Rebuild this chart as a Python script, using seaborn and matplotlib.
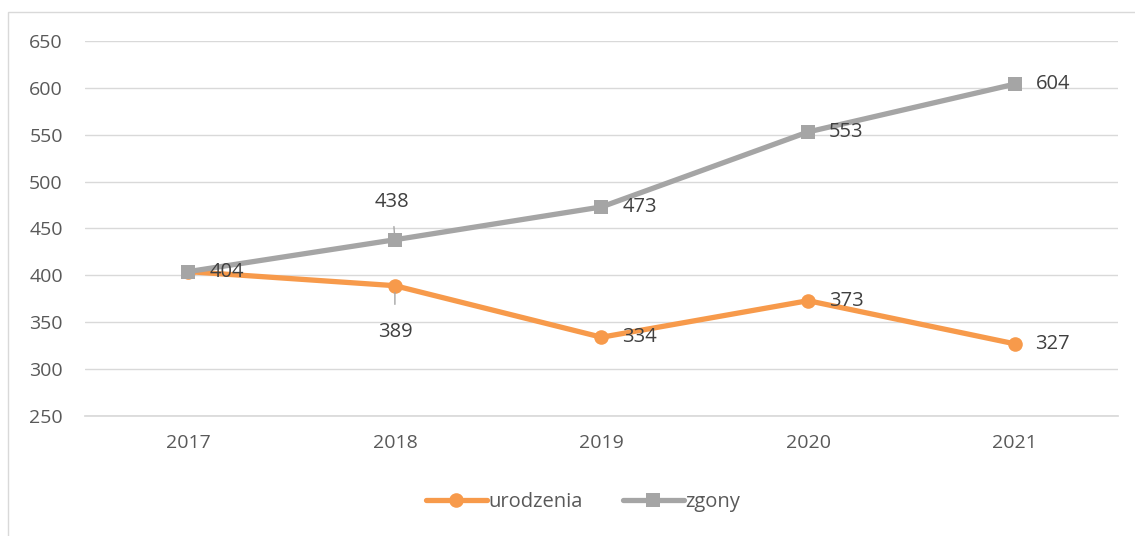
import pandas as pd
import matplotlib.pyplot as plt
import seaborn as sns
from matplotlib.patches import Rectangle

# =========================
# DATA
# =========================
years = ["2017", "2018", "2019", "2020", "2021"]
urodzenia = [404, 389, 334, 373, 327]
zgony = [404, 438, 473, 553, 604]

df = pd.DataFrame({
    "pos": list(range(len(years))) * 2,
    "value": urodzenia + zgony,
    "series": ["urodzenia"] * len(years) + ["zgony"] * len(years),
})

# =========================
# STYLE
# =========================
sns.set_theme(style="white")
plt.rcParams['font.family'] = ['Open Sans', 'DejaVu Sans']
text_color = "#595959"
orange = "#F79A4B"
gray = "#A5A5A5"

fig = plt.figure(figsize=(11.35, 5.36), dpi=100)
ax = fig.add_axes([0.0749, 0.2239, 0.9101, 0.6996])

# outer chart border
fig.patches.append(Rectangle((8 / 1135, -0.05), 1.1, 1 - 12 / 536 + 0.05,
                             transform=fig.transFigure, fill=False,
                             edgecolor="#D9D9D9", linewidth=1))

sns.lineplot(
    data=df, x="pos", y="value", hue="series", style="series",
    palette={"urodzenia": orange, "zgony": gray},
    markers={"urodzenia": "o", "zgony": "s"},
    dashes=False, linewidth=3.8, markersize=10.5, markeredgewidth=0,
    ax=ax, legend=True
)

ax.set_xlim(-0.5, len(years) - 0.5)
ax.set_ylim(250, 650)
ax.set_yticks(range(250, 651, 50))
ax.set_xticks(range(len(years)))
ax.set_xticklabels(years)
ax.set_xlabel("")
ax.set_ylabel("")
ax.grid(axis="y", color="#D9D9D9", linewidth=1)
ax.set_axisbelow(True)
for s in ["top", "right", "left"]:
    ax.spines[s].set_visible(False)
ax.spines["bottom"].set_color("#D9D9D9")
ax.tick_params(axis="both", colors=text_color, labelsize=14, length=0)
ax.tick_params(axis="x", pad=13)
ax.tick_params(axis="y", pad=16)

# =========================
# VALUE LABELS
# =========================
def label(i, v, dx=15, dy=0, ha="left", va="center"):
    ax.annotate(str(v), (i, v), xytext=(dx, dy), textcoords="offset points",
                ha=ha, va=va, fontsize=14.5, color="#404040")

for i, v in enumerate(urodzenia):
    if i == 1:
        ax.annotate(str(v), (i, v), xytext=(0, -33), textcoords="offset points",
                    ha="center", va="center", fontsize=14.5, color="#404040",
                    arrowprops=dict(arrowstyle="-", color=gray, lw=1,
                                    shrinkA=10, shrinkB=5))
    elif i == 0:
        continue  # sits under the zgony label at the same spot
    else:
        label(i, v)

for i, v in enumerate(zgony):
    if i == 1:
        ax.annotate(str(v), (i, v), xytext=(-2, 27), textcoords="offset points",
                    ha="center", va="center", fontsize=14.5, color="#404040",
                    arrowprops=dict(arrowstyle="-", color=gray, lw=1,
                                    shrinkA=8, shrinkB=4))
    else:
        label(i, v)

# =========================
# LEGEND
# =========================
handles, labels = ax.get_legend_handles_labels()
ax.legend_.remove()
fig.legend(handles, labels, loc="center", bbox_to_anchor=(0.514, 0.064),
           ncol=2, frameon=False, fontsize=14.5, handlelength=3.0,
           handletextpad=0.1, columnspacing=2.0, labelcolor=text_color)

plt.savefig("out.png", dpi=100)
